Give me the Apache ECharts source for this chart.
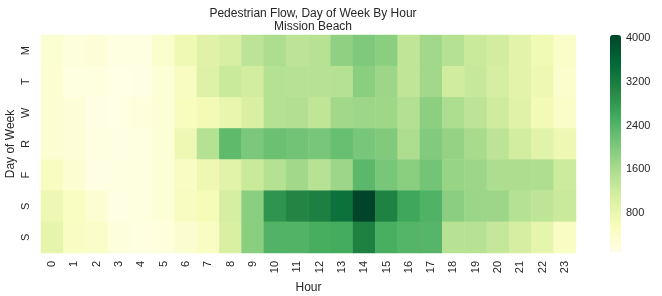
<!DOCTYPE html>
<html><head><meta charset="utf-8">
<script src="https://cdn.jsdelivr.net/npm/echarts@6/dist/echarts.min.js"></script>
<style>html,body{margin:0;padding:0;background:#fff}#c{width:662px;height:296px}</style>
</head><body><div id="c"></div>
<script>
const hours = ['0','1','2','3','4','5','6','7','8','9','10','11','12','13','14','15','16','17','18','19','20','21','22','23'];
const days = ['M','T','W','R','F','S','S'];
const mon = [320,180,230,140,140,360,710,975,1100,1390,1570,1390,1450,1845,2005,1900,1360,1683,1480,1255,1143,910,677,408];
const tue = [295,136,160,103,114,260,498,1007,1255,1143,1480,1460,1450,1480,1900,1725,1360,1683,1180,1290,1120,910,727,351];
const wed = [295,227,114,100,170,260,532,645,826,1075,1480,1512,1360,1683,1725,1700,1500,1870,1575,1390,1190,975,660,408];
const thu = [295,227,136,114,136,260,727,1480,2295,2030,2187,2125,2070,2215,2070,1988,1572,1975,1800,1616,1390,1143,960,727];
const fri = [500,295,114,136,148,250,453,727,940,1255,1480,1683,1450,1725,2333,2070,1900,2110,1770,1725,1575,1560,1535,1210];
const sat = [727,476,295,114,160,250,498,590,1120,1900,2866,3065,3150,3390,4060,3120,2615,2430,1890,1740,1725,1480,1375,1255];
const sun = [877,465,408,182,125,170,340,453,1075,1900,2412,2412,2510,2550,3140,2500,2390,2375,1450,1450,1310,1120,877,453];
const colorbarTicks = [800,1600,2400,3200,4000];
const vMin = 80, vMax = 4060;

const rows = [mon,tue,wed,thu,fri,sat,sun];
const data = [];
rows.forEach((r, yi) => r.forEach((v, xi) => data.push([xi, yi, v])));

const FONT = 'Liberation Sans, Arial, sans-serif';
const TXT = '#262626';
const chart = echarts.init(document.getElementById('c'), null, {renderer:'canvas'});
chart.setOption({
  animation: false,
  backgroundColor: '#fff',
  title: {
    text: 'Pedestrian Flow, Day of Week By Hour\nMission Beach',
    left: 308, top: 2, textAlign: 'center',
    textStyle: {fontFamily: FONT, fontSize: 12, fontWeight: 'normal', color: TXT, lineHeight: 13}
  },
  grid: [
    {left: 41, top: 35, width: 535, height: 218, containLabel:false, outerBoundsMode:'none'},
    {left: 610, top: 35, width: 11, height: 217, containLabel:false, outerBoundsMode:'none'}
  ],
  xAxis: [
    {type:'category', data: hours, gridIndex: 0,
     axisLine:{show:false}, axisTick:{show:false}, splitLine:{show:false},
     axisLabel:{rotate:90, fontFamily:FONT, fontSize:11, color:TXT, margin:8, interval:0},
     name:'Hour', nameLocation:'middle', nameGap:29, nameMoveOverlap:false,
     nameTextStyle:{fontFamily:FONT, fontSize:12, color:TXT}},
    {type:'value', gridIndex:1, show:false, min:0, max:1}
  ],
  yAxis: [
    {type:'category', data: days, gridIndex:0, inverse:true,
     axisLine:{show:false}, axisTick:{show:false}, splitLine:{show:false},
     axisLabel:{rotate:90, fontFamily:FONT, fontSize:11, color:TXT, margin:10, interval:0},
     name:'Day of Week', nameLocation:'middle', nameGap:24, nameRotate:90, nameMoveOverlap:false,
     nameTextStyle:{fontFamily:FONT, fontSize:12, color:TXT}},
    {type:'value', gridIndex:1, position:'right', min:vMin, max:vMax,
     axisLine:{show:false}, splitLine:{show:false},
     axisTick:{show:true, length:4, lineStyle:{color:TXT, width:1}, customValues: colorbarTicks},
     axisLabel:{fontFamily:FONT, fontSize:11, color:TXT, margin:5, customValues: colorbarTicks,
                formatter: v => String(v)}}
  ],
  visualMap: {
    type:'continuous', min:vMin, max:vMax, seriesIndex:0,
    calculable:false, orient:'vertical', left:610, top:35, padding:0,
    itemWidth:11, itemHeight:217, hoverLink:false,
    inRange:{color:['#ffffe5','#f7fcb9','#d9f0a3','#addd8e','#78c679','#41ab5d','#238443','#006837','#004529']}
  },
  series: [{
    type:'heatmap', xAxisIndex:0, yAxisIndex:0, data: data,
    itemStyle:{borderWidth:0}, emphasis:{disabled:true}
  }]
});
</script></body></html>
